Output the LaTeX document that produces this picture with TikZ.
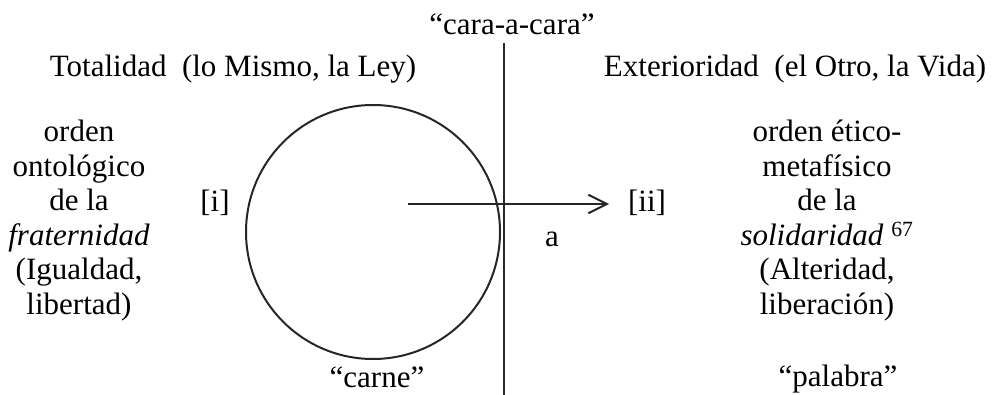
\documentclass[tikz,border=0pt]{standalone}
\usepackage{fontspec}
\setmainfont{Liberation Serif}
\usepackage{tikz}
\usetikzlibrary{arrows.meta}
\tikzset{
  label/.style={
    inner sep=0pt,
    align=center,
    anchor=base,
    font=\fontsize{31}{34.5}\selectfont
  },
  column/.style={
    label,
    anchor=north
  },
  frontier/.style={
    line width=2pt,
    draw=black!85
  },
  crossarrow/.style={
    -{Straight Barb[length=6.5mm,width=6.5mm,line width=2pt]},
    line width=2pt,
    draw=black!85
  }
}

\begin{document}
\begin{tikzpicture}[x=1pt,y=-1pt]
    \useasboundingbox (0,0) rectangle (992,395);

    \node[label] (cara) at (512,35) {“cara-a-cara”};
    \node[label] (totalidad) at (233,77) {Totalidad\ \ (lo Mismo, la Ley)};
    \node[label] (exterioridad) at (795,77) {Exterioridad\ \ (el Otro, la Vida)};

    \node[column] (orden1) at (79,120) {orden\\ontológico\\de la\\\textit{fraternidad}\\(Igualdad,\\libertad)};
    \node[column] (orden2) at (827,120) {orden ético-\\metafísico\\de la\\\textit{solidaridad} \textsuperscript{67}\\(Alteridad,\\liberación)};

    \node[circle, frontier, minimum size=254pt, inner sep=0pt] (mismo) at (373,232) {};
    \node[label] (uno) at (215,212) {[i]};
    \node[label] (dos) at (647,212) {[ii]};
    \node[label] (a) at (552,247) {a};

    \node[label] (carne) at (377,387) {“carne”};
    \node[label] (palabra) at (838,386) {“palabra”};

    \coordinate (arriba) at (504,43);
    \coordinate (abajo) at (504,395);
    \coordinate (origen) at (408,204);
    \coordinate (meta) at (609,204);

    \draw[frontier] (arriba) -- (abajo);
    \draw[crossarrow] (origen) -- (meta);
\end{tikzpicture}
\end{document}
